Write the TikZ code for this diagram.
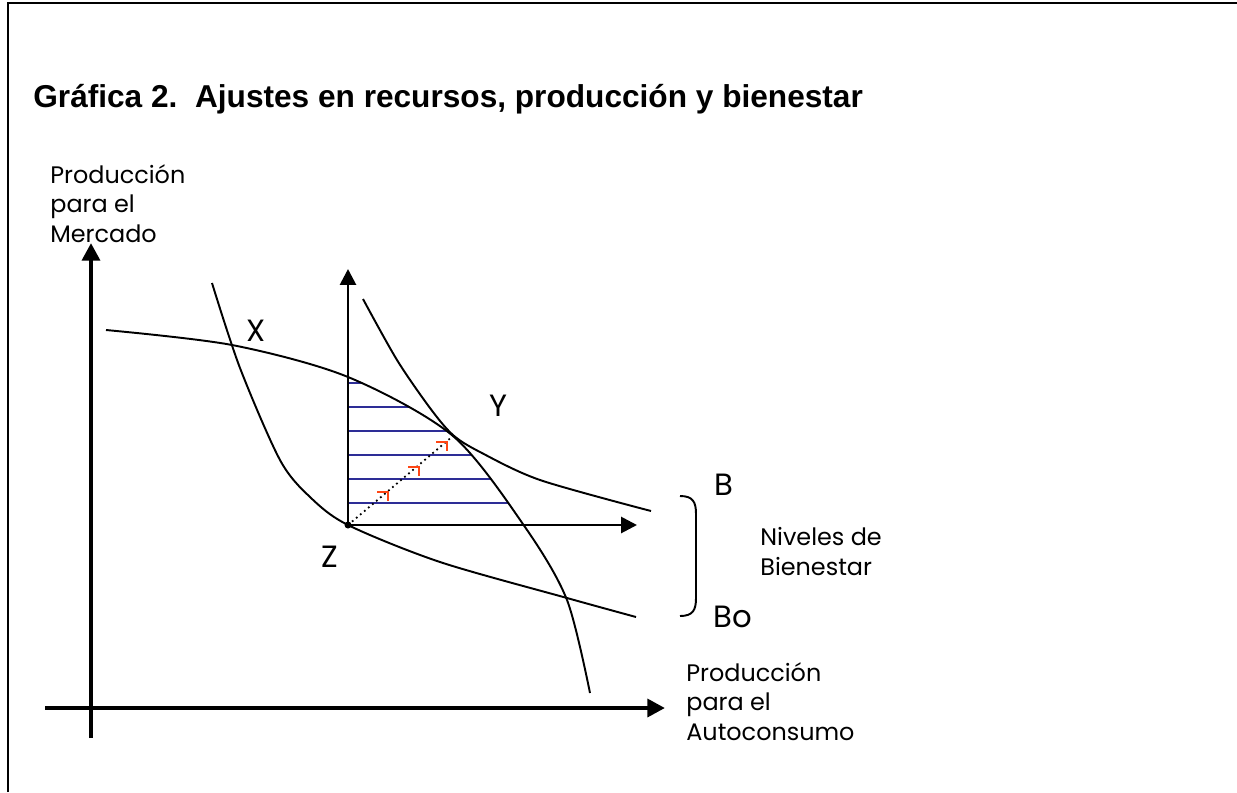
\documentclass[tikz,border=0pt]{standalone}
\usepackage{fontspec}
\setmainfont{Poppins}
\newfontfamily\titlefont{Liberation Sans}
\usetikzlibrary{arrows.meta}
\definecolor{hatchblue}{RGB}{45,45,150}
\definecolor{markred}{RGB}{255,70,20}
\def\ppfcurve{plot[smooth] coordinates {(106,330) (232,345) (348,377) (453,436) (525,527) (567,600) (590,693)}}
\def\lowcurve{plot[smooth] coordinates {(212,283) (240,368) (280,460) (310,497) (348,525) (440,562) (567,598) (636,617)}}
\def\highcurve{plot[smooth] coordinates {(363,299) (397,360) (430,408) (453,435) (480,452) (540,480) (651,511)}}
\tikzset{
  bigaxis/.style={line width=2.8pt, -{Triangle[length=10pt,width=10pt]}},
  smallaxis/.style={line width=1.6pt, -{Triangle[length=9pt,width=9pt]}},
  curveline/.style={line width=1.1pt},
  hatch/.style={hatchblue, line width=0.8pt},
  redtick/.style={markred, line width=0.8pt},
  letter/.style={font=\fontsize{17.5}{20}\selectfont, inner sep=0pt},
  axislabel/.style={font=\fontsize{13.6}{16.7}\selectfont, align=left, anchor=base west, inner sep=0pt}
}

\begin{document}
\begin{tikzpicture}[x=0.02cm, y=-0.02cm]
    \useasboundingbox (0,0) rectangle (1237,792);
    \draw[line width=1.1pt] (8,792) -- (8,3) -- (1237,3);
    \node[anchor=base west, inner sep=0pt, font=\titlefont\bfseries\fontsize{18}{22}\selectfont] (title) at (33,107) {Gráfica 2.\ \ Ajustes en recursos, producción y bienestar};

    \coordinate (vbot) at (91,738);
    \coordinate (vtop) at (91,243);
    \coordinate (hleft) at (45,708);
    \coordinate (hright) at (665,708);
    \coordinate (z) at (348,525);
    \coordinate (zup) at (348,269);
    \coordinate (zright) at (637,525);
    \coordinate (y) at (453,436);

    \begin{scope}
        \clip \ppfcurve -- (590,720) -- (106,720) -- cycle;
        \foreach \h in {383,407,431,455,479,503}
            \draw[hatch] (348,\h) -- (620,\h);
    \end{scope}
    \draw[curveline] \ppfcurve;
    \draw[curveline] \lowcurve;
    \draw[curveline] \highcurve;

    \draw[bigaxis] (vbot) -- (vtop);
    \draw[bigaxis] (hleft) -- (hright);
    \draw[smallaxis] (z) -- (zup);
    \draw[smallaxis] (z) -- (zright);
    \draw[dotted, line width=1pt] (z) -- (y);
    \foreach \a/\b in {377/492, 408/467, 436/442}
        \draw[redtick] (\a,\b) -- ++(11,0) -- ++(0,9);
    \fill (z) circle (3.5);
    \draw[curveline] (680,496) .. controls (693,496) and (696,502) .. (696,514) -- (696,598) .. controls (696,610) and (693,616) .. (680,616);

    \node[letter] (xlab) at (256,331) {X};
    \node[letter] (ylab) at (498,406) {Y};
    \node[letter] (zlab) at (330,557) {Z};
    \node[letter] (blab) at (724,485) {B};
    \node[letter, anchor=west] (bolab) at (713,617) {Bo};
    \node[axislabel] (mkt) at (50,242) {Producción\\para el\\Mercado};
    \node[axislabel] (auto) at (686,740) {Producción\\para el\\Autoconsumo};
    \node[axislabel] (niv) at (760,575) {Niveles de\\Bienestar};
\end{tikzpicture}
\end{document}
